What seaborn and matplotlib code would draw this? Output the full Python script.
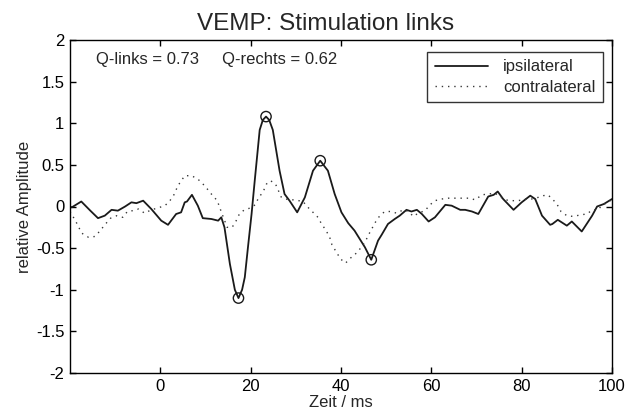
import numpy as np
import pandas as pd
import matplotlib
matplotlib.use("Agg")
import matplotlib.pyplot as plt
import seaborn as sns

# ---- data ----
ipsi_t = [-20, -19.6, -17.5, -15.5, -13.8, -12.3, -10.8, -9.4, -7.8, -6.4, -5.3, -3.8, -2.0, 0.2, 1.7,
          3.5, 4.6, 5.4, 5.9, 7.0, 8.3, 9.4, 11.3, 12.8, 13.5, 14.2, 15.4, 16.5, 17.3, 18.1, 18.7,
          19.4, 20.2, 20.9, 22.0, 22.7, 23.4, 24.1, 24.9, 26.4, 27.5, 28.6, 30.3, 32.0, 33.8, 35.4,
          37.1, 38.6, 40.1, 41.6, 43.0, 45.3, 46.7, 48.2, 49.0, 50.4, 51.9, 53.0, 54.5, 55.6, 56.8,
          57.9, 59.4, 60.8, 63.1, 64.5, 66.4, 67.5, 69.0, 70.4, 72.6, 73.8, 74.7, 75.9, 78.2, 80.0,
          81.9, 83.0, 84.5, 86.3, 86.8, 88.0, 90.0, 91.1, 93.3, 95.6, 96.7, 98.2, 100]
ipsi_v = [0.0, -0.01, 0.06, -0.05, -0.14, -0.11, -0.04, -0.05, 0.0, 0.05, 0.04, 0.07, -0.03, -0.17, -0.22,
          -0.09, -0.07, 0.05, 0.06, 0.14, 0.01, -0.14, -0.15, -0.17, -0.13, -0.25, -0.69, -1.0, -1.10, -1.0, -0.85,
          -0.49, -0.09, 0.31, 0.92, 1.04, 1.08, 1.04, 0.92, 0.43, 0.15, 0.07, -0.07, 0.11, 0.43, 0.55,
          0.43, 0.15, -0.07, -0.20, -0.29, -0.49, -0.64, -0.41, -0.34, -0.21, -0.15, -0.11, -0.04, -0.06, -0.04,
          -0.09, -0.18, -0.13, 0.02, 0.01, -0.04, -0.04, -0.06, -0.09, 0.12, 0.14, 0.18, 0.09, -0.04, 0.05,
          0.13, 0.09, -0.11, -0.22, -0.21, -0.16, -0.23, -0.18, -0.30, -0.11, 0.0, 0.03, 0.09]

contra_t = [-20, -18.8, -17.4, -15.9, -14.5, -13.3, -12.3, -11.0, -9.6, -8.3, -7.3, -6.1, -4.8, -3.5, -2.0,
            -0.7, 1.0, 2.0, 3.0, 3.9, 5.4, 6.9, 8.3, 9.8, 11.3, 12.6, 13.6, 14.8, 15.9, 16.8, 17.5, 18.6,
            19.8, 21.0, 21.8, 22.7, 23.5, 24.4, 25.5, 26.8, 28.4, 29.7, 31.6, 32.5, 33.8, 34.9, 35.6, 36.7,
            37.5, 38.0, 39.0, 39.9, 41.0, 42.1, 43.4, 44.5, 45.4, 46.0, 46.8, 47.6, 48.6, 49.7, 51.1, 52.3,
            53.8, 55.0, 56.0, 57.1, 58.6, 59.7, 60.8, 62.3, 63.8, 66.0, 68.5, 69.7, 71.2, 72.6, 74.1, 75.2,
            76.3, 77.8, 79.3, 80.7, 82.2, 83.7, 84.8, 85.8, 86.8, 87.8, 88.7, 90.0, 91.5, 93.0, 94.5, 95.6,
            96.9, 97.7, 99.6, 100]
contra_v = [-0.06, -0.17, -0.32, -0.37, -0.36, -0.29, -0.22, -0.14, -0.11, -0.13, -0.06, -0.05, -0.03, -0.08, -0.04,
            -0.02, 0.01, 0.06, 0.14, 0.25, 0.37, 0.37, 0.33, 0.25, 0.15, 0.07, -0.08, -0.25, -0.25, -0.17, -0.09, -0.04,
            -0.02, 0.02, 0.11, 0.17, 0.27, 0.31, 0.27, 0.11, 0.08, 0.08, 0.06, 0.0, -0.07, -0.13, -0.20, -0.29,
            -0.37, -0.46, -0.55, -0.63, -0.68, -0.62, -0.56, -0.49, -0.42, -0.35, -0.27, -0.19, -0.11, -0.06, -0.06, -0.08,
            -0.04, -0.06, -0.12, -0.08, -0.05, 0.02, 0.07, 0.09, 0.10, 0.10, 0.10, 0.08, 0.14, 0.15, 0.16, 0.12,
            0.08, 0.07, 0.07, 0.09, 0.09, 0.11, 0.13, 0.14, 0.09, 0.03, -0.06, -0.11, -0.12, -0.10, -0.09, -0.04,
            -0.04, 0.01, 0.07, 0.08]

peak_t = [17.3, 23.4, 35.4, 46.7]
peak_v = [-1.10, 1.08, 0.55, -0.64]

q_links = 0.73
q_rechts = 0.62
title = "VEMP: Stimulation links"
xlabel = "Zeit / ms"
ylabel = "relative Amplitude"
x_ticks = [0, 20, 40, 60, 80, 100]
y_ticks = [-2, -1.5, -1, -0.5, 0, 0.5, 1, 1.5, 2]
y_ticklabels = ["-2", "-1.5", "-1", "-0.5", "0", "0.5", "1", "1.5", "2"]

# ---- plotting ----
sns.set_theme(style="ticks")
plt.rcParams["font.family"] = ["Liberation Sans", "DejaVu Sans"]

fig = plt.figure(figsize=(6.27, 4.17), dpi=100)
ax = fig.add_axes([70 / 627, 1 - 373 / 417, (612 - 70) / 627, (373 - 40) / 417])

df_i = pd.DataFrame({"t": ipsi_t, "v": ipsi_v})
df_c = pd.DataFrame({"t": contra_t, "v": contra_v})
sns.lineplot(data=df_i, x="t", y="v", ax=ax, color="#1a1a1a", lw=1.3, label="ipsilateral")
sns.lineplot(data=df_c, x="t", y="v", ax=ax, color="#383838", lw=1.0, label="contralateral",
             dashes=False)
ax.lines[-1].set_dashes([1.0, 3.5])
sns.scatterplot(x=peak_t, y=peak_v, ax=ax, s=55, facecolor="none", edgecolor="#1a1a1a",
                linewidth=1.0, zorder=5, legend=False)

ax.set_xlim(-20, 100)
ax.set_ylim(-2, 2)
ax.set_xticks(x_ticks)
ax.set_yticks(y_ticks)
ax.set_yticklabels(y_ticklabels)
ax.tick_params(direction="in", top=True, right=True, length=4, width=1, colors="black",
               labelsize=12, pad=4)
for s in ax.spines.values():
    s.set_color("black")
    s.set_linewidth(1.0)

ax.set_title(title, fontsize=17.5, pad=7, x=0.472)
ax.set_xlabel(xlabel, fontsize=12, labelpad=1)
ax.set_ylabel(ylabel, fontsize=12, labelpad=3)

ax.text(-14.2, 1.77, f"Q-links = {q_links:.2f}     Q-rechts = {q_rechts:.2f}", fontsize=12,
        va="center", ha="left")

leg = ax.legend(loc="upper right", bbox_to_anchor=((603 - 70) / 542, 1 - (52 - 40) / 333),
                borderaxespad=0, fontsize=12, frameon=True, fancybox=False,
                handlelength=3.2, handletextpad=0.9, borderpad=0.45, labelspacing=0.3,
                edgecolor="black")
leg.get_frame().set_linewidth(1.0)

fig.savefig("out.png", dpi=100)
